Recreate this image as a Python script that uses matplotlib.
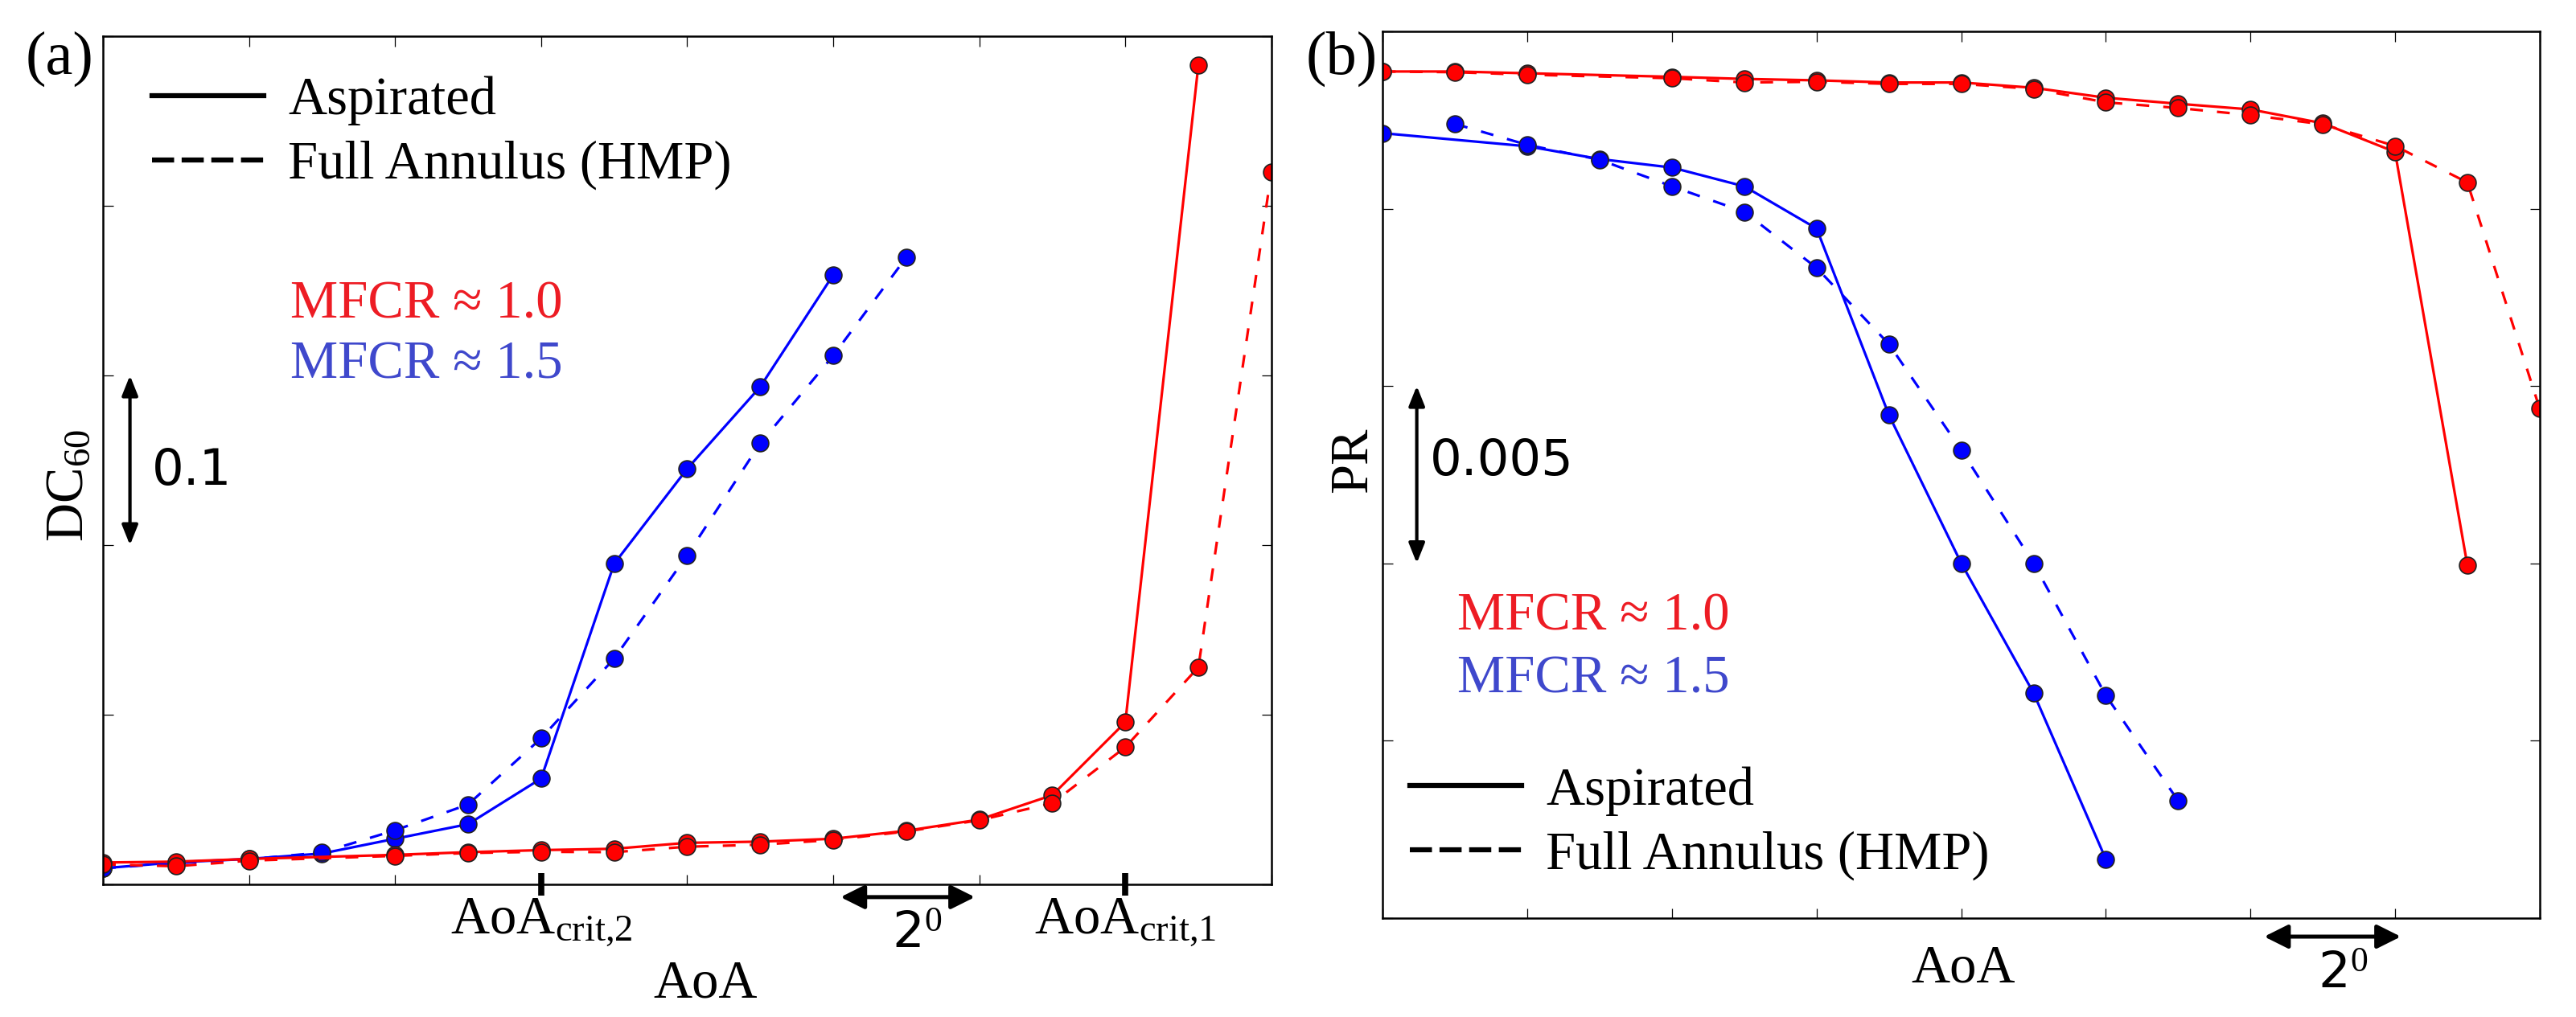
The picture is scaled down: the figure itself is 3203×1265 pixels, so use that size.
import matplotlib
matplotlib.use("Agg")
import matplotlib.pyplot as plt
from matplotlib.lines import Line2D

plt.rcParams['font.family'] = ['Liberation Serif', 'DejaVu Serif']
plt.rcParams['mathtext.fontset'] = 'custom'
plt.rcParams['mathtext.rm'] = 'Liberation Serif'
plt.rcParams['mathtext.it'] = 'Liberation Serif:italic'
plt.rcParams['mathtext.bf'] = 'Liberation Serif:bold'

# ---------------- data (AoA in degrees relative to left edge) ----------------
# Panel (a): DC60
a_red_sol_x = [0, 1, 2, 4, 5, 6, 7, 8, 9, 10, 11, 12, 13, 14, 15]
a_red_sol_y = [0.0129, 0.0134, 0.0150, 0.0174, 0.0190, 0.0202, 0.0210, 0.0245,
               0.0252, 0.0269, 0.0316, 0.0382, 0.0526, 0.0956, 0.483]
a_red_das_x = [0, 1, 2, 4, 5, 6, 7, 8, 9, 10, 11, 12, 13, 14, 15, 16]
a_red_das_y = [0.0118, 0.0107, 0.0140, 0.0168, 0.0185, 0.0192, 0.0190, 0.0222,
               0.0234, 0.0262, 0.0312, 0.0378, 0.0479, 0.0809, 0.128, 0.420]
a_blu_sol_x = [0, 1, 2, 3, 4, 5, 6, 7, 8, 9, 10]
a_blu_sol_y = [0.0095, 0.0130, 0.0150, 0.0182, 0.0269, 0.0355, 0.0624,
               0.189, 0.245, 0.2933, 0.3593]
a_blu_das_x = [0, 1, 2, 3, 4, 5, 6, 7, 8, 9, 10, 11]
a_blu_das_y = [0.0095, 0.0125, 0.0148, 0.0188, 0.0319, 0.0471, 0.0861,
               0.1331, 0.194, 0.260, 0.3117, 0.3696]

# Panel (b): PR (offset from axis bottom)
b_red_sol_x = [0, 1, 2, 4, 5, 6, 7, 8, 9, 10, 11, 12, 13, 14, 15]
b_red_sol_y = [0.02387, 0.02387, 0.02382, 0.02372, 0.02366, 0.02362, 0.02356,
               0.02356, 0.02341, 0.02313, 0.02296, 0.02280, 0.02241, 0.02160,
               0.00994]
b_red_das_x = [0, 1, 2, 4, 5, 6, 7, 8, 9, 10, 11, 12, 13, 14, 15, 16]
b_red_das_y = [0.02387, 0.02385, 0.02378, 0.02368, 0.02356, 0.02358, 0.02352,
               0.02352, 0.02338, 0.02300, 0.02284, 0.02264, 0.02238, 0.02177,
               0.02074, 0.01436]
b_blu_sol_x = [0, 2, 3, 4, 5, 6, 7, 8, 9, 10]
b_blu_sol_y = [0.02213, 0.02176, 0.02140, 0.02116, 0.02063, 0.01944, 0.01418,
               0.01000, 0.00634, 0.00165]
b_blu_das_x = [1, 2, 3, 4, 5, 6, 7, 8, 9, 10, 11]
b_blu_das_y = [0.02239, 0.02180, 0.02138, 0.02063, 0.01991, 0.01833, 0.01618,
               0.01319, 0.01000, 0.00627, 0.00330]

crit_ticks = [6, 14]
crit_labels = [r'AoA$_{\rm crit{,}2}$', r'AoA$_{\rm crit{,}1}$']
legend_labels = ['Aspirated', 'Full Annulus (HMP)']
mfcr_labels = ['MFCR \u2248 1.0', 'MFCR \u2248 1.5']

RED = '#ff0000'
BLUE = '#0000ff'
RED_TXT = '#ed1c24'
BLUE_TXT = '#3f48cc'
DASH = (5, 5.5)

fig = plt.figure(figsize=(32.03, 12.65), dpi=100)
axa = fig.add_axes([0.03996, 0.1304, 0.4536, 0.834])
axb = fig.add_axes([0.5368, 0.0976, 0.4491, 0.8715])


def draw_series(ax, x, y, color, dashed):
    kw = dict(color=color, lw=2.3, marker='o', ms=15, mfc=color,
              mec='#222222', mew=1.2)
    if dashed:
        ax.plot(x, y, ls='--', dashes=DASH, **kw)
    else:
        ax.plot(x, y, ls='-', **kw)


draw_series(axa, a_blu_sol_x, a_blu_sol_y, BLUE, False)
draw_series(axa, a_blu_das_x, a_blu_das_y, BLUE, True)
draw_series(axa, a_red_sol_x, a_red_sol_y, RED, False)
draw_series(axa, a_red_das_x, a_red_das_y, RED, True)

draw_series(axb, b_blu_sol_x, b_blu_sol_y, BLUE, False)
draw_series(axb, b_blu_das_x, b_blu_das_y, BLUE, True)
draw_series(axb, b_red_sol_x, b_red_sol_y, RED, False)
draw_series(axb, b_red_das_x, b_red_das_y, RED, True)

axa.set_xlim(0, 16)
axa.set_ylim(0, 0.5)
axb.set_xlim(0, 16)
axb.set_ylim(0, 0.025)

for ax, ystep in ((axa, 0.1), (axb, 0.005)):
    ax.set_xticks(range(0, 17, 2))
    ax.set_yticks([i * ystep for i in range(6)])
    ax.tick_params(which='major', direction='in', length=9, width=0.9,
                   top=True, right=True, labelbottom=False, labelleft=False)
    for s in ax.spines.values():
        s.set_linewidth(1.8)

axa.xaxis.remove_overlapping_locs = False
axa.set_xticks(crit_ticks, labels=crit_labels, minor=True)
axa.tick_params(axis='x', which='minor', direction='inout', length=20,
                width=5.5, bottom=True, top=False, labelbottom=True,
                labelsize=48, pad=1)

# legends
h_sol = Line2D([], [], color='black', lw=4.5, ls='-')
h_das = Line2D([], [], color='black', lw=4.5, ls='--', dashes=(4.4, 1.5))
axa.legend([h_sol, h_das], legend_labels, loc='center left',
           bbox_to_anchor=(0.042, 0.8858), frameon=False, fontsize=48,
           handlelength=2.08, handletextpad=0.46, borderpad=0,
           borderaxespad=0, labelspacing=0.28)
axb.legend([h_sol, h_das], legend_labels, loc='center left',
           bbox_to_anchor=(0.0234, 0.1066), frameon=False, fontsize=48,
           handlelength=2.08, handletextpad=0.46, borderpad=0,
           borderaxespad=0, labelspacing=0.28)

# MFCR annotations
axa.text(0.1604, 0.668, mfcr_labels[0], color=RED_TXT, fontsize=48,
         transform=axa.transAxes, va='baseline', ha='left')
axa.text(0.1604, 0.597, mfcr_labels[1], color=BLUE_TXT, fontsize=48,
         transform=axa.transAxes, va='baseline', ha='left')
axb.text(0.0644, 0.3252, mfcr_labels[0], color=RED_TXT, fontsize=48,
         transform=axb.transAxes, va='baseline', ha='left')
axb.text(0.0644, 0.2544, mfcr_labels[1], color=BLUE_TXT, fontsize=48,
         transform=axb.transAxes, va='baseline', ha='left')

# scale arrows
arrow_v = dict(arrowstyle='<|-|>,head_length=0.5,head_width=0.2',
               color='black', lw=3, mutation_scale=30, shrinkA=0, shrinkB=0)
axa.annotate('', xy=(0.37, 0.3), xytext=(0.37, 0.2), arrowprops=arrow_v)
axa.text(0.67, 0.2436, '0.1', family='DejaVu Sans', fontsize=45,
         va='center', ha='left')
axb.annotate('', xy=(0.47, 0.015), xytext=(0.47, 0.010), arrowprops=arrow_v)
axb.text(0.65, 0.01287, '0.005', family='DejaVu Sans', fontsize=45,
         va='center', ha='left')

arrow_h = dict(arrowstyle='<|-|>,head_length=0.6,head_width=0.3',
               color='black', lw=3.6, mutation_scale=30, shrinkA=0, shrinkB=0)
axa.annotate('', xy=(11.94, -0.015), xytext=(10.1, -0.015),
             xycoords=('data', 'axes fraction'),
             textcoords=('data', 'axes fraction'),
             arrowprops=arrow_h, annotation_clip=False)
axa.text(11.15, -0.0749, r'2$^{\rm 0}$', family='DejaVu Sans', fontsize=45,
         transform=axa.get_xaxis_transform(), va='baseline', ha='center')
axb.annotate('', xy=(14.08, -0.0213), xytext=(12.19, -0.0213),
             xycoords=('data', 'axes fraction'),
             textcoords=('data', 'axes fraction'),
             arrowprops=arrow_h, annotation_clip=False)
axb.text(13.28, -0.0794, r'2$^{\rm 0}$', family='DejaVu Sans', fontsize=45,
         transform=axb.get_xaxis_transform(), va='baseline', ha='center')

# axis labels
axa.set_xlabel('AoA', fontsize=48, va='baseline')
axa.xaxis.set_label_coords(0.5155, -0.1336)
axb.set_xlabel('AoA', fontsize=48, va='baseline')
axb.xaxis.set_label_coords(0.5017, -0.0721)
axa.set_ylabel(r'DC$_{60}$', fontsize=48, va='center', ha='center')
axa.yaxis.set_label_coords(-0.0289, 0.470)
axb.set_ylabel('PR', fontsize=48, va='center', ha='center')
axb.yaxis.set_label_coords(-0.0253, 0.5166)

fig.text(0.0231, 0.9423, '(a)', fontsize=55, ha='center', va='center')
fig.text(0.5208, 0.9423, '(b)', fontsize=55, ha='center', va='center')

fig.savefig('out.png', dpi=100)
